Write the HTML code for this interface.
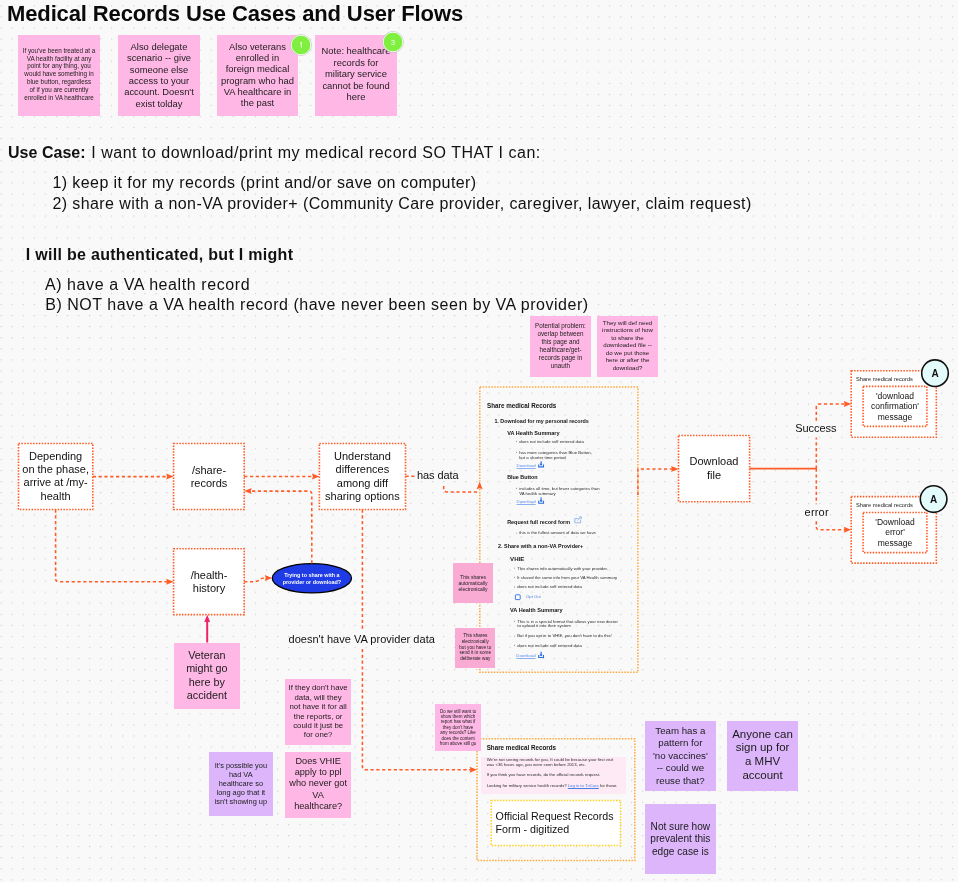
<!DOCTYPE html>
<html><head><meta charset="utf-8"><title>Medical Records Use Cases and User Flows</title>
<style>
html,body{margin:0;padding:0;}
body{width:958px;height:882px;overflow:hidden;position:relative;background-color:#f9f9f9;background-image:radial-gradient(circle at 0.6px 0.6px, #cfcfcf 0.55px, transparent 0.9px);background-size:11.07px 11.07px;background-position:0.5px 5.3px;font-family:"Liberation Sans", sans-serif;color:#111111;}
.t{position:absolute;white-space:nowrap;}
.r{position:absolute;}
.fg{position:absolute;left:0;top:0;width:958px;height:882px;will-change:transform;}
svg{position:absolute;left:0;top:0;}
svg.top{will-change:transform;}
</style></head><body>
<div class="r" style="left:18.5px;top:443.5px;width:74.3px;height:66.0px;background:#ffffff;"></div>
<div class="r" style="left:173.6px;top:443.5px;width:70.6px;height:66.0px;background:#ffffff;"></div>
<div class="r" style="left:173.6px;top:548.8px;width:70.6px;height:65.80000000000007px;background:#ffffff;"></div>
<div class="r" style="left:319.4px;top:443.5px;width:86.10000000000002px;height:66.0px;background:#ffffff;"></div>
<div class="r" style="left:678.5px;top:435.5px;width:71.10000000000002px;height:66.19999999999999px;background:#ffffff;"></div>
<div class="r" style="left:851.2px;top:370.8px;width:85.09999999999991px;height:66.39999999999998px;background:#ffffff;"></div>
<div class="r" style="left:851.2px;top:496.6px;width:85.09999999999991px;height:66.5px;background:#ffffff;"></div>
<div class="r" style="left:481.2px;top:756.7px;width:145.3px;height:37.299999999999955px;background:#fdeaf5;"></div>
<div class="r" style="left:491.3px;top:800.4px;width:129.2px;height:45.200000000000045px;background:#ffffff;"></div>
<svg width="958" height="882" viewBox="0 0 958 882">
<rect x="18.5" y="443.5" width="74.3" height="66.0" fill="none" stroke="#ff5c26" stroke-width="1.6" stroke-dasharray="1.5 1.4" rx="0"/>
<rect x="173.6" y="443.5" width="70.6" height="66.0" fill="none" stroke="#ff5c26" stroke-width="1.6" stroke-dasharray="1.5 1.4" rx="0"/>
<rect x="173.6" y="548.8" width="70.6" height="65.80000000000007" fill="none" stroke="#ff5c26" stroke-width="1.6" stroke-dasharray="1.5 1.4" rx="0"/>
<rect x="319.4" y="443.5" width="86.10000000000002" height="66.0" fill="none" stroke="#ff5c26" stroke-width="1.6" stroke-dasharray="1.5 1.4" rx="0"/>
<rect x="678.5" y="435.5" width="71.10000000000002" height="66.19999999999999" fill="none" stroke="#ff5c26" stroke-width="1.6" stroke-dasharray="1.5 1.4" rx="0"/>
<rect x="851.2" y="370.8" width="85.09999999999991" height="66.39999999999998" fill="none" stroke="#ff5c26" stroke-width="1.6" stroke-dasharray="1.5 1.4" rx="0"/>
<rect x="863.1" y="386.4" width="63.799999999999955" height="40.0" fill="none" stroke="#ff5c26" stroke-width="1.6" stroke-dasharray="1.5 1.4" rx="0"/>
<rect x="851.2" y="496.6" width="85.09999999999991" height="66.5" fill="none" stroke="#ff5c26" stroke-width="1.6" stroke-dasharray="1.5 1.4" rx="0"/>
<rect x="863.1" y="512.5" width="63.799999999999955" height="40.10000000000002" fill="none" stroke="#ff5c26" stroke-width="1.6" stroke-dasharray="1.5 1.4" rx="0"/>
<rect x="479.8" y="387.1" width="158.09999999999997" height="285.1" fill="none" stroke="#ffa836" stroke-width="1.5" stroke-dasharray="1.5 1.4" rx="0"/>
<rect x="477.0" y="738.8" width="157.79999999999995" height="121.60000000000002" fill="none" stroke="#ffa836" stroke-width="1.5" stroke-dasharray="1.5 1.4" rx="0"/>
<rect x="491.3" y="800.4" width="129.2" height="45.200000000000045" fill="none" stroke="#ffd21f" stroke-width="1.5" stroke-dasharray="1.5 1.4" rx="0"/>
<ellipse cx="311.9" cy="578.3" rx="39.6" ry="14.6" fill="#1f3be6" stroke="#000" stroke-width="1.3"/>
<path d="M92.8 476.6 H167.5" fill="none" stroke="#ff5c26" stroke-width="1.55" stroke-dasharray="3.2 2.6"/>
<polygon points="173.60,476.60 166.20,473.60 167.10,476.60 166.20,479.60" fill="#ff5c26"/>
<path d="M55.6 509.5 V578.7 Q55.6 581.7 58.6 581.7 H167.5" fill="none" stroke="#ff5c26" stroke-width="1.55" stroke-dasharray="3.2 2.6"/>
<polygon points="173.60,581.70 166.20,578.70 167.10,581.70 166.20,584.70" fill="#ff5c26"/>
<path d="M244.2 476.5 H313.2" fill="none" stroke="#ff5c26" stroke-width="1.55" stroke-dasharray="3.2 2.6"/>
<polygon points="319.40,476.50 312.00,473.50 312.90,476.50 312.00,479.50" fill="#ff5c26"/>
<path d="M311.8 563.4 V494.1 Q311.8 491.1 308.8 491.1 H250.3" fill="none" stroke="#ff5c26" stroke-width="1.55" stroke-dasharray="3.2 2.6"/>
<polygon points="244.20,491.10 251.60,488.10 250.70,491.10 251.60,494.10" fill="#ff5c26"/>
<path d="M244.2 581.7 H253.5 Q257.5 581.7 260 579.5 Q262 577.9 265.5 577.9" fill="none" stroke="#ff5c26" stroke-width="1.55" stroke-dasharray="3.2 2.6"/>
<polygon points="272.20,578.00 264.80,575.00 265.70,578.00 264.80,581.00" fill="#ff5c26"/>
<path d="M405.5 476.3 H414.5" fill="none" stroke="#ff5c26" stroke-width="1.55" stroke-dasharray="3.2 2.6"/>
<path d="M443.7 486 V489 Q443.7 491.9 446.7 491.9 H479.5" fill="none" stroke="#ff5c26" stroke-width="1.55" stroke-dasharray="3.2 2.6"/>
<polygon points="479.60,481.80 476.60,489.20 479.60,488.30 482.60,489.20" fill="#ff5c26"/>
<path d="M362.4 509.5 V629" fill="none" stroke="#ff5c26" stroke-width="1.55" stroke-dasharray="3.2 2.6"/>
<path d="M362.4 649 V766.7 Q362.4 769.7 365.4 769.7 H470.8" fill="none" stroke="#ff5c26" stroke-width="1.55" stroke-dasharray="3.2 2.6"/>
<polygon points="477.00,769.70 469.60,766.70 470.50,769.70 469.60,772.70" fill="#ff5c26"/>
<path d="M637.9 495 V468.9 H672.3" fill="none" stroke="#ff5c26" stroke-width="1.55" stroke-dasharray="3.2 2.6"/>
<polygon points="678.50,468.90 671.10,465.90 672.00,468.90 671.10,471.90" fill="#ff5c26"/>
<path d="M749.6 468.6 H817" fill="none" stroke="#ff5c26" stroke-width="1.55"/>
<path d="M816.3 468.6 V437.5" fill="none" stroke="#ff5c26" stroke-width="1.55" stroke-dasharray="3.2 2.6"/>
<path d="M816.3 420.8 V407 Q816.3 404 819.3 404 H845" fill="none" stroke="#ff5c26" stroke-width="1.55" stroke-dasharray="3.2 2.6"/>
<polygon points="851.20,404.00 843.80,401.00 844.70,404.00 843.80,407.00" fill="#ff5c26"/>
<path d="M816.3 468.6 V504.2" fill="none" stroke="#ff5c26" stroke-width="1.55" stroke-dasharray="3.2 2.6"/>
<path d="M816.3 521.2 V527 Q816.3 529.8 819.3 529.8 H845" fill="none" stroke="#ff5c26" stroke-width="1.55" stroke-dasharray="3.2 2.6"/>
<polygon points="851.20,529.80 843.80,526.80 844.70,529.80 843.80,532.80" fill="#ff5c26"/>
<path d="M207.2 642.5 V621" fill="none" stroke="#ef2268" stroke-width="2.0"/>
<polygon points="207.20,614.80 204.20,622.30 207.20,621.40 210.20,622.30" fill="#ef2268"/>
<circle cx="516.50" cy="441.20" r="0.45" fill="#2c2c2c"/>
<circle cx="516.50" cy="452.30" r="0.45" fill="#2c2c2c"/>
<path d="M538.70 464.40 V466.90 H543.50 V464.40" fill="none" stroke="#2a6de0" stroke-width="1.1"/>
<path d="M541.10 461.20 V465.20" fill="none" stroke="#2a6de0" stroke-width="1.2"/>
<polygon points="539.50,463.80 542.70,463.80 541.10,465.80" fill="#2a6de0"/>
<circle cx="516.50" cy="488.20" r="0.45" fill="#2c2c2c"/>
<path d="M538.70 500.80 V503.30 H543.50 V500.80" fill="none" stroke="#2a6de0" stroke-width="1.1"/>
<path d="M541.10 497.60 V501.60" fill="none" stroke="#2a6de0" stroke-width="1.2"/>
<polygon points="539.50,500.20 542.70,500.20 541.10,502.20" fill="#2a6de0"/>
<path d="M578.5 518.6 H574.8 V522.8 H580.6 V519.8" fill="none" stroke="#7fa7ee" stroke-width="0.8"/>
<path d="M577.6 520.6 L581.2 517.0 M579.0 516.9 H581.3 V519.2" fill="none" stroke="#7fa7ee" stroke-width="0.8"/>
<circle cx="516.50" cy="533.10" r="0.45" fill="#2c2c2c"/>
<circle cx="514.50" cy="568.10" r="0.45" fill="#2c2c2c"/>
<circle cx="514.50" cy="577.30" r="0.45" fill="#2c2c2c"/>
<circle cx="514.50" cy="587.00" r="0.45" fill="#2c2c2c"/>
<rect x="515.4" y="594.8" width="4.8" height="4.8" rx="0.6" fill="#fff" stroke="#2a6de0" stroke-width="0.9"/>
<circle cx="514.50" cy="621.20" r="0.45" fill="#2c2c2c"/>
<circle cx="514.50" cy="636.10" r="0.45" fill="#2c2c2c"/>
<circle cx="514.50" cy="645.30" r="0.45" fill="#2c2c2c"/>
<path d="M538.70 655.00 V657.50 H543.50 V655.00" fill="none" stroke="#2a6de0" stroke-width="1.1"/>
<path d="M541.10 651.80 V655.80" fill="none" stroke="#2a6de0" stroke-width="1.2"/>
<polygon points="539.50,654.40 542.70,654.40 541.10,656.40" fill="#2a6de0"/>
</svg>

<div class="fg">
<div class="t" style="left:7.00px;top:1.18px;font-size:22px;line-height:26.4px;font-weight:700;color:#0a0a0a;letter-spacing:-0.124px;">Medical Records Use Cases and User Flows</div>
<div class="r" style="left:18px;top:35px;width:82px;height:81px;background:#ffb7e5;"></div>
<div class="t" style="left:-141.00px;width:400px;text-align:center;top:46.67px;font-size:6.3px;line-height:7.9px;color:#1c1c1c;">If you've been treated at a<br>VA health facility at any<br>point for any thing, you<br>would have something in<br>blue button, regardless<br>of if you are currently<br>enrolled in VA healthcare</div>
<div class="r" style="left:118px;top:35px;width:82px;height:81px;background:#ffb7e5;"></div>
<div class="t" style="left:-41.00px;width:400px;text-align:center;top:41.09px;font-size:9.4px;line-height:11.3px;color:#1c1c1c;">Also delegate<br>scenario -- give<br>someone else<br>access to your<br>account. Doesn't<br>exist tolday</div>
<div class="r" style="left:217px;top:35px;width:81px;height:81px;background:#ffb7e5;"></div>
<div class="t" style="left:57.50px;width:400px;text-align:center;top:40.89px;font-size:9.4px;line-height:11.3px;color:#1c1c1c;">Also veterans<br>enrolled in<br>foreign medical<br>program who had<br>VA healthcare in<br>the past</div>
<div class="r" style="left:315.3px;top:35px;width:81.39999999999998px;height:81px;background:#ffb7e5;"></div>
<div class="t" style="left:156.00px;width:400px;text-align:center;top:45.39px;font-size:9.4px;line-height:11.5px;color:#1c1c1c;">Note: healthcare<br>records for<br>military service<br>cannot be found<br>here</div>
<div class="t" style="left:8.00px;top:142.56px;font-size:16px;line-height:19.2px;font-weight:700;letter-spacing:0.025px;">Use Case:</div>
<div class="t" style="left:91.20px;top:142.56px;font-size:16px;line-height:19.2px;letter-spacing:0.524px;">I want to download/print my medical record SO THAT I can:</div>
<div class="t" style="left:52.40px;top:172.56px;font-size:16px;line-height:19.2px;letter-spacing:0.422px;">1) keep it for my records (print and/or save on computer)</div>
<div class="t" style="left:52.40px;top:193.76px;font-size:16px;line-height:19.2px;letter-spacing:0.418px;">2) share with a non-VA provider+ (Community Care provider, caregiver, lawyer, claim request)</div>
<div class="t" style="left:25.80px;top:244.76px;font-size:16px;line-height:19.2px;font-weight:700;letter-spacing:0.294px;">I will be authenticated, but I might</div>
<div class="t" style="left:44.90px;top:274.76px;font-size:16px;line-height:19.2px;letter-spacing:0.584px;">A) have a VA health record</div>
<div class="t" style="left:45.30px;top:295.46px;font-size:16px;line-height:19.2px;letter-spacing:0.508px;">B) NOT have a VA health record (have never been seen by VA provider)</div>
<div class="r" style="left:530px;top:316px;width:61px;height:61px;background:#ffb7e5;"></div>
<div class="t" style="left:360.50px;width:400px;text-align:center;top:322.12px;font-size:6.3px;line-height:8.0px;color:#1c1c1c;">Potential problem:<br>overlap between<br>this page and<br>healthcare/get-<br>records page in<br>unauth</div>
<div class="r" style="left:597px;top:316px;width:61px;height:61px;background:#ffb7e5;"></div>
<div class="t" style="left:427.50px;width:400px;text-align:center;top:318.52px;font-size:6.15px;line-height:7.5px;color:#1c1c1c;">They will def need<br>instructions of how<br>to share the<br>downloaded file --<br>do we put those<br>here or after the<br>download?</div>
<div class="t" style="left:-144.40px;width:400px;text-align:center;top:450.24px;font-size:11px;line-height:13.1px;">Depending<br>on the phase,<br>arrive at /my-<br>health</div>
<div class="t" style="left:9.00px;width:400px;text-align:center;top:463.59px;font-size:11px;line-height:13.4px;">/share-<br>records</div>
<div class="t" style="left:9.00px;width:400px;text-align:center;top:568.89px;font-size:11px;line-height:13.4px;">/health-<br>history</div>
<div class="t" style="left:162.40px;width:400px;text-align:center;top:449.69px;font-size:11px;line-height:13.4px;">Understand<br>differences<br>among diff<br>sharing options</div>
<div class="t" style="left:514.00px;width:400px;text-align:center;top:455.19px;font-size:11px;line-height:13.6px;">Download<br>file</div>
<div class="t" style="top:375.90px;font-size:5.7px;line-height:6.84px;color:#1c1c1c;left:856.00px;">Share medical records</div>
<div class="t" style="left:695.00px;width:400px;text-align:center;top:390.75px;font-size:8.5px;line-height:10.6px;">'download<br>confirmation'<br>message</div>
<div class="t" style="top:502.00px;font-size:5.7px;line-height:6.84px;color:#1c1c1c;left:856.00px;">Share medical records</div>
<div class="t" style="left:695.00px;width:400px;text-align:center;top:516.75px;font-size:8.5px;line-height:10.6px;">'Download<br>error'<br>message</div>
<div class="t" style="top:809.57px;font-size:10.7px;line-height:12.84px;left:495.60px;">Official Request Records</div>
<div class="t" style="top:822.77px;font-size:10.7px;line-height:12.84px;left:495.60px;">Form - digitized</div>
<div class="t" style="top:572.09px;font-size:5.4px;line-height:6.48px;font-weight:700;color:#ffffff;left:11.90px;width:600px;text-align:center;">Trying to share with a</div>
<div class="t" style="top:578.89px;font-size:5.4px;line-height:6.48px;font-weight:700;color:#ffffff;left:11.90px;width:600px;text-align:center;">provider or download?</div>
<div class="t" style="left:416.90px;top:468.89px;font-size:11px;line-height:13.2px;letter-spacing:-0.075px;">has data</div>
<div class="t" style="left:795.30px;top:422.39px;font-size:11px;line-height:13.2px;letter-spacing:-0.082px;">Success</div>
<div class="t" style="left:804.60px;top:506.39px;font-size:11px;line-height:13.2px;letter-spacing:0.195px;">error</div>
<div class="t" style="left:288.50px;top:632.89px;font-size:11px;line-height:13.2px;letter-spacing:0.027px;">doesn't have VA provider data</div>
<div class="r" style="left:173.8px;top:642.9px;width:66.1px;height:65.80000000000007px;background:#ffb7e5;"></div>
<div class="t" style="left:6.85px;width:400px;text-align:center;top:649.16px;font-size:10.8px;line-height:13.2px;color:#1c1c1c;">Veteran<br>might go<br>here by<br>accident</div>
<div class="r" style="left:285.3px;top:679.2px;width:65.69999999999999px;height:65.79999999999995px;background:#ffb7e5;"></div>
<div class="t" style="left:118.15px;width:400px;text-align:center;top:683.40px;font-size:7.8px;line-height:9.4px;color:#1c1c1c;">If they don't have<br>data, will they<br>not have it for all<br>the reports, or<br>could it just be<br>for one?</div>
<div class="r" style="left:285.3px;top:751.9px;width:65.69999999999999px;height:65.80000000000007px;background:#ffb7e5;"></div>
<div class="t" style="left:118.15px;width:400px;text-align:center;top:756.26px;font-size:9.2px;line-height:11.1px;color:#1c1c1c;">Does VHIE<br>apply to ppl<br>who never got<br>VA<br>healthcare?</div>
<div class="r" style="left:209.0px;top:751.5px;width:63.69999999999999px;height:64.29999999999995px;background:#dcb5fa;"></div>
<div class="t" style="left:40.85px;width:400px;text-align:center;top:761.09px;font-size:7.4px;line-height:9.1px;color:#1c1c1c;">It's possible you<br>had VA<br>healthcare so<br>long ago that it<br>isn't showing up</div>
<div class="r" style="left:434.9px;top:704.4px;width:46.30000000000001px;height:46.5px;background:#ffb7e5;"></div>
<div class="t" style="left:258.05px;width:400px;text-align:center;top:708.54px;font-size:4.5px;line-height:5.4px;color:#1c1c1c;">Do we still want to<br>show them which<br>report has what if<br>they don't have<br>any records? Like<br>does the content<br>from above still go</div>
<div class="r" style="left:453.2px;top:563.4px;width:39.60000000000002px;height:39.89999999999998px;background:#f9abd4;"></div>
<div class="t" style="left:273.00px;width:400px;text-align:center;top:573.97px;font-size:5.0px;line-height:6.0px;color:#1c1c1c;">This shares<br>automatically<br>electronically</div>
<div class="r" style="left:455.3px;top:628.0px;width:39.89999999999998px;height:40.0px;background:#f9abd4;"></div>
<div class="t" style="left:275.25px;width:400px;text-align:center;top:633.22px;font-size:4.7px;line-height:5.7px;color:#1c1c1c;">This shares<br>electronically<br>but you have to<br>send it in some<br>deliberate way</div>
<div class="r" style="left:645.1px;top:720.6px;width:70.5px;height:70.19999999999993px;background:#dcb5fa;"></div>
<div class="t" style="left:480.35px;width:400px;text-align:center;top:725.04px;font-size:9.7px;line-height:12.4px;color:#1c1c1c;">Team has a<br>pattern for<br>'no vaccines'<br>-- could we<br>reuse that?</div>
<div class="r" style="left:727.4px;top:720.6px;width:70.30000000000007px;height:70.19999999999993px;background:#dcb5fa;"></div>
<div class="t" style="left:562.55px;width:400px;text-align:center;top:727.62px;font-size:11.5px;line-height:13.8px;color:#1c1c1c;">Anyone can<br>sign up for<br>a MHV<br>account</div>
<div class="r" style="left:645.1px;top:804.2px;width:70.5px;height:70.09999999999991px;background:#dcb5fa;"></div>
<div class="t" style="left:480.35px;width:400px;text-align:center;top:820.90px;font-size:10.1px;line-height:12.6px;color:#1c1c1c;">Not sure how<br>prevalent this<br>edge case is</div>
<div class="t" style="left:487.00px;top:401.85px;font-size:6.28px;line-height:7.54px;font-weight:700;color:#141414;">Share medical Records</div>
<div class="t" style="left:494.40px;top:417.83px;font-size:5.36px;line-height:6.43px;font-weight:700;color:#141414;">1.&nbsp;Download for my personal records</div>
<div class="t" style="left:507.20px;top:429.65px;font-size:5.55px;line-height:6.66px;font-weight:700;color:#141414;">VA Health Summary</div>
<div class="t" style="left:519.20px;top:438.51px;font-size:4.32px;line-height:5.18px;color:#2c2c2c;">does not include self entered data</div>
<div class="t" style="left:519.20px;top:449.66px;font-size:4.27px;line-height:5.12px;color:#2c2c2c;">has more categories than Blue Button,</div>
<div class="t" style="left:519.20px;top:454.52px;font-size:4.31px;line-height:5.17px;color:#2c2c2c;">but a shorter time period</div>
<div class="t" style="left:516.50px;top:462.69px;font-size:4.34px;line-height:5.21px;color:#5b8def;text-decoration:underline;text-decoration-color:#8fb0f0;">Download</div>
<div class="t" style="left:507.20px;top:473.61px;font-size:5.38px;line-height:6.46px;font-weight:700;color:#141414;">Blue Button</div>
<div class="t" style="left:519.20px;top:485.57px;font-size:4.26px;line-height:5.11px;color:#2c2c2c;">includes all time, but fewer categories than</div>
<div class="t" style="left:519.20px;top:490.68px;font-size:4.25px;line-height:5.1px;color:#2c2c2c;">VA health summary</div>
<div class="t" style="left:516.50px;top:498.99px;font-size:4.34px;line-height:5.21px;color:#5b8def;text-decoration:underline;text-decoration-color:#8fb0f0;">Download</div>
<div class="t" style="left:507.20px;top:518.68px;font-size:5.41px;line-height:6.49px;font-weight:700;color:#141414;">Request full record form</div>
<div class="t" style="left:519.20px;top:530.48px;font-size:4.25px;line-height:5.1px;color:#2c2c2c;">this is the fullest amount of data we have</div>
<div class="t" style="left:498.00px;top:543.33px;font-size:5.46px;line-height:6.55px;font-weight:700;color:#141414;">2. Share with a non-VA Provider+</div>
<div class="t" style="left:510.10px;top:554.84px;font-size:6.08px;line-height:7.3px;font-weight:700;color:#141414;">VHIE</div>
<div class="t" style="left:517.20px;top:565.51px;font-size:4.22px;line-height:5.06px;color:#2c2c2c;">This shares info automatically with your provider.</div>
<div class="t" style="left:517.20px;top:574.69px;font-size:4.24px;line-height:5.09px;color:#2c2c2c;">It shared the same info from your VA Health summary</div>
<div class="t" style="left:517.20px;top:584.31px;font-size:4.32px;line-height:5.18px;color:#2c2c2c;">does not include self entered data</div>
<div class="t" style="left:526.00px;top:594.49px;font-size:4.23px;line-height:5.08px;color:#4a7fe6;">Opt Out</div>
<div class="t" style="left:510.00px;top:607.23px;font-size:5.57px;line-height:6.68px;font-weight:700;color:#141414;">VA Health Summary</div>
<div class="t" style="left:517.20px;top:618.57px;font-size:4.26px;line-height:5.11px;color:#2c2c2c;">This is in a special format that allows your new doctor</div>
<div class="t" style="left:517.20px;top:623.31px;font-size:4.32px;line-height:5.18px;color:#2c2c2c;">to upload it into their system</div>
<div class="t" style="left:517.20px;top:633.47px;font-size:4.26px;line-height:5.11px;color:#2c2c2c;">But if you opt in to VHIE, you don't have to do this!</div>
<div class="t" style="left:517.20px;top:642.61px;font-size:4.32px;line-height:5.18px;color:#2c2c2c;">does not include self entered data</div>
<div class="t" style="left:516.30px;top:652.89px;font-size:4.34px;line-height:5.21px;color:#5b8def;text-decoration:underline;text-decoration-color:#8fb0f0;">Download</div>
<div class="t" style="left:486.70px;top:743.57px;font-size:6.27px;line-height:7.52px;font-weight:700;color:#141414;">Share medical Records</div>
<div class="t" style="left:486.70px;top:756.77px;font-size:4.26px;line-height:5.11px;color:#2c2c2c;">We're not seeing records for you. It could be because your first visit</div>
<div class="t" style="left:486.70px;top:761.88px;font-size:4.25px;line-height:5.1px;color:#2c2c2c;">was &lt;36 hours ago, you were seen before 2013, etc.</div>
<div class="t" style="left:486.70px;top:772.37px;font-size:4.26px;line-height:5.11px;color:#2c2c2c;">If you think you have records, do the official records request.</div>
<div class="t" style="left:486.70px;top:782.51px;font-size:4.22px;line-height:5.06px;color:#2c2c2c;">Looking for military service health records? <span style="color:#4a7fe6;text-decoration:underline">Log in to TriCare</span> for those.</div>
</div>

<svg class="top" width="958" height="882" viewBox="0 0 958 882">
<circle cx="301" cy="45" r="10.4" fill="none" stroke="#bbbbbb" stroke-width="0.8"/>
<circle cx="301" cy="45" r="9.8" fill="#80f040" stroke="#ffffff" stroke-width="0.8"/>
<path d="M300.10 43.10 L301.30 42.20 V47.60" fill="none" stroke="#ffffff" stroke-width="0.9"/>
<circle cx="393" cy="42" r="10.4" fill="none" stroke="#bbbbbb" stroke-width="0.8"/>
<circle cx="393" cy="42" r="9.8" fill="#80f040" stroke="#ffffff" stroke-width="0.8"/>
<text x="393" y="44.5" font-size="7.2" fill="#ffffff" text-anchor="middle" font-family="Liberation Sans">3</text>
<circle cx="935" cy="373.2" r="13.3" fill="#e4fbfb" stroke="#111" stroke-width="1.6"/>
<text x="935" y="376.8" font-size="10" font-weight="700" fill="#111" text-anchor="middle" font-family="Liberation Sans">A</text>
<circle cx="933.6" cy="499.1" r="13.3" fill="#e4fbfb" stroke="#111" stroke-width="1.6"/>
<text x="933.6" y="502.70000000000005" font-size="10" font-weight="700" fill="#111" text-anchor="middle" font-family="Liberation Sans">A</text>
</svg>
</body></html>
